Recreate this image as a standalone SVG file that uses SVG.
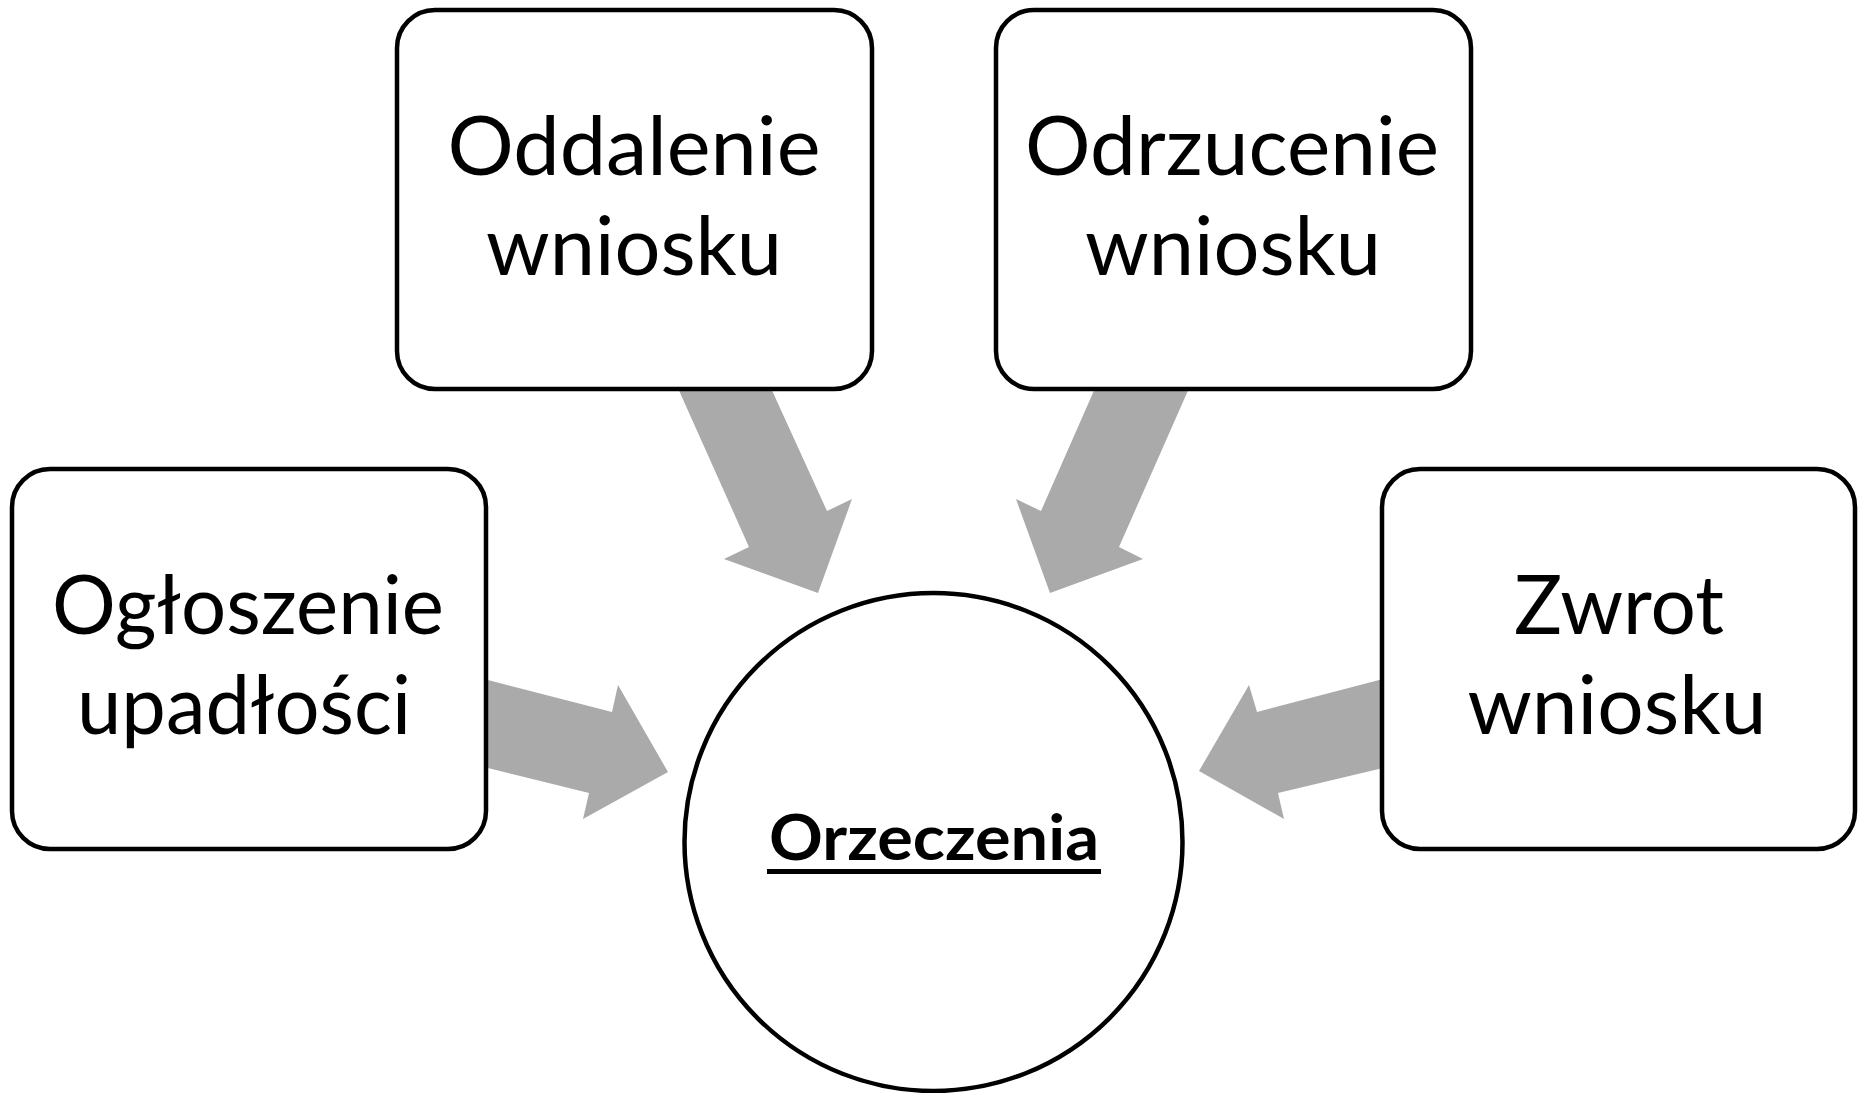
<svg xmlns="http://www.w3.org/2000/svg" width="1860" height="1093" viewBox="0 0 1860 1093">
<style>
.box{fill:#fff;stroke:#000;stroke-width:4.5}
.arrow{fill:#AAAAAA;stroke:none}
.t{font-family:Lato,"Liberation Sans",sans-serif;font-size:81px;fill:#000;text-anchor:middle}
.b{font-family:Lato,"Liberation Sans",sans-serif;font-size:63px;font-weight:bold;fill:#000;text-anchor:middle}
</style>
<rect width="1860" height="1093" fill="#fff"/>
<g id="connectors">
<polygon class="arrow" points="677,386 770,386 827,511 852,499 818,593 724,559 749,547"/>
<polygon class="arrow" points="1096,386 1190,386 1119,547 1143,559 1050,593 1016,499 1041,511"/>
<polygon class="arrow" points="484,679 612,712 618,685 668,772 583,819 589,793 484,767"/>
<polygon class="arrow" points="1383,679 1257,712 1249,685 1199,771 1284,819 1278,793 1383,768"/>
</g>
<g id="node-oddalenie">
<rect class="box" x="397" y="10" width="475" height="379" rx="38"/>
<text class="t" x="634" y="175" textLength="373" lengthAdjust="spacingAndGlyphs">Oddalenie</text>
<text class="t" x="634" y="275" textLength="296" lengthAdjust="spacingAndGlyphs">wniosku</text>
</g>
<g id="node-odrzucenie">
<rect class="box" x="996" y="10" width="475" height="379" rx="38"/>
<text class="t" x="1232" y="175" textLength="414" lengthAdjust="spacingAndGlyphs">Odrzucenie</text>
<text class="t" x="1233" y="275" textLength="296" lengthAdjust="spacingAndGlyphs">wniosku</text>
</g>
<g id="node-ogloszenie">
<rect class="box" x="12" y="469" width="474" height="380" rx="38"/>
<text class="t" x="248" y="634" textLength="392" lengthAdjust="spacingAndGlyphs">Ogłoszenie</text>
<text class="t" x="244" y="734" textLength="334" lengthAdjust="spacingAndGlyphs">upadłości</text>
</g>
<g id="node-zwrot">
<rect class="box" x="1382" y="469" width="473" height="380" rx="38"/>
<text class="t" x="1619" y="634" textLength="210" lengthAdjust="spacingAndGlyphs">Zwrot</text>
<text class="t" x="1617" y="734" textLength="299" lengthAdjust="spacingAndGlyphs">wniosku</text>
</g>
<g id="node-orzeczenia">
<circle class="box" cx="933.5" cy="842" r="249"/>
<text class="b" x="934" y="860" textLength="330" lengthAdjust="spacingAndGlyphs">Orzeczenia</text>
<rect x="767" y="869" width="334" height="5" fill="#000"/>
</g>
</svg>
